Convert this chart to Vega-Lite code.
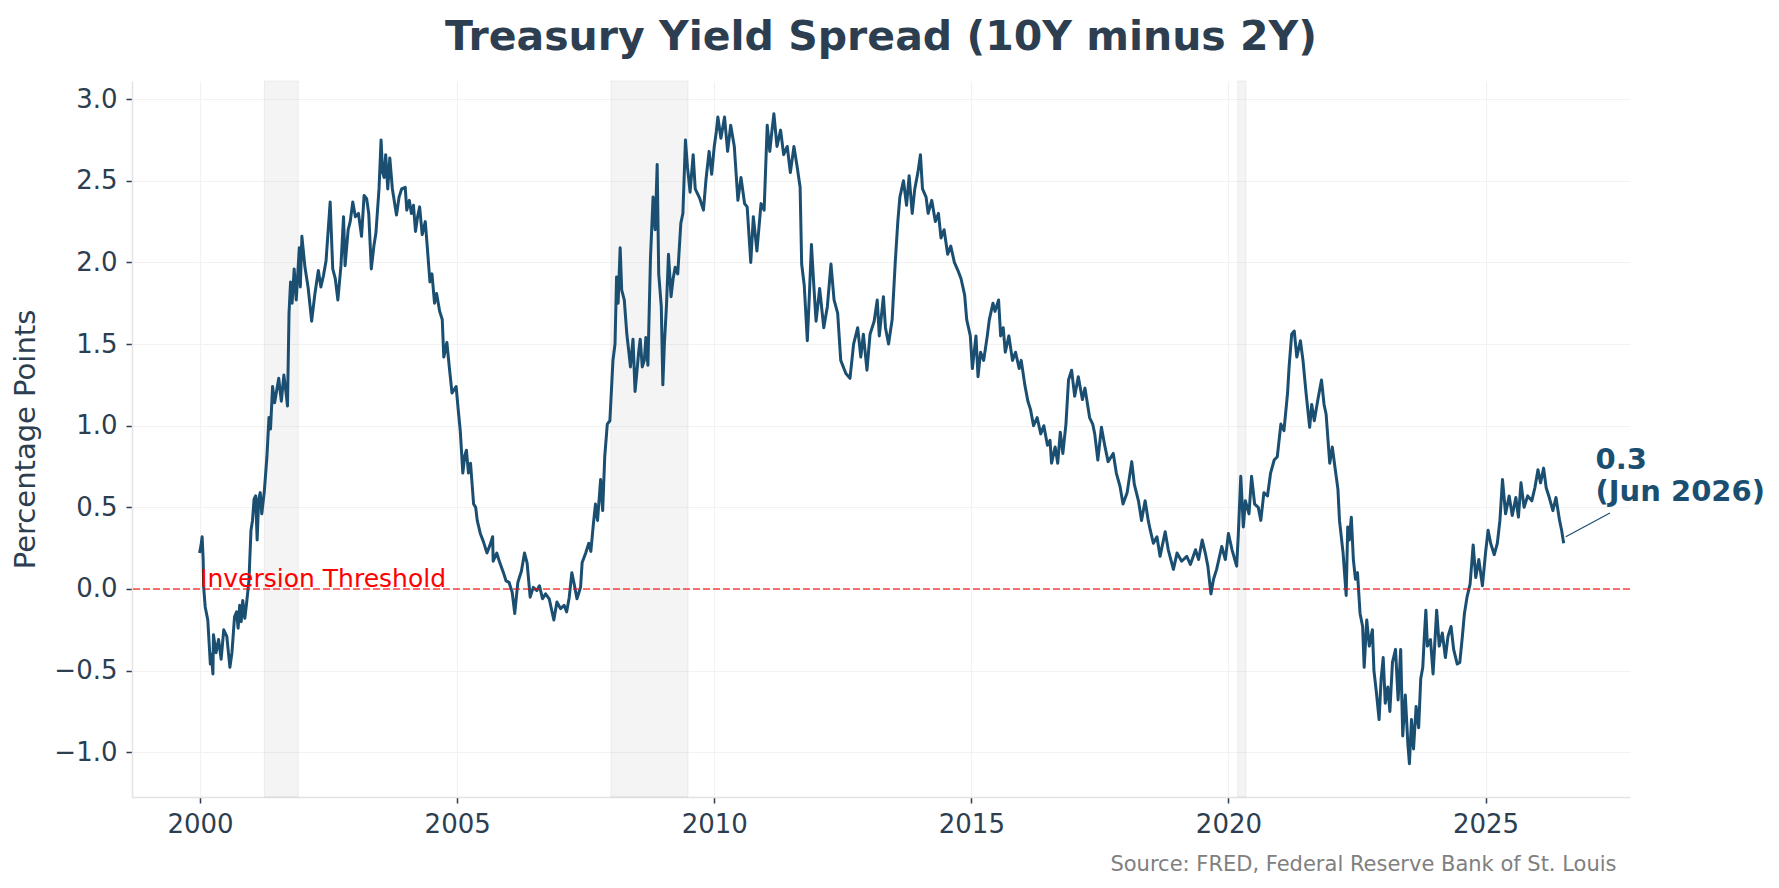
{
  "$schema": "https://vega.github.io/schema/vega-lite/v6.json",
  "autosize": "none",
  "width": 1498,
  "height": 716,
  "padding": {"left": 132, "top": 81, "right": 149, "bottom": 91},
  "background": "white",
  "title": {
    "text": "Treasury Yield Spread (10Y minus 2Y)",
    "font": "DejaVu Sans",
    "fontSize": 41,
    "fontWeight": "bold",
    "color": "#2c3e50",
    "anchor": "middle",
    "baseline": "alphabetic",
    "offset": -10
  },
  "datasets": {
    "spread": [
      {"year": 1999.99, "value": 0.22}, {"year": 2000.02, "value": 0.27}, {"year": 2000.04, "value": 0.32},
      {"year": 2000.06, "value": 0.18}, {"year": 2000.07, "value": 0.01}, {"year": 2000.10, "value": -0.11},
      {"year": 2000.15, "value": -0.19}, {"year": 2000.20, "value": -0.46}, {"year": 2000.22, "value": -0.40},
      {"year": 2000.25, "value": -0.52}, {"year": 2000.26, "value": -0.28}, {"year": 2000.31, "value": -0.39},
      {"year": 2000.36, "value": -0.31}, {"year": 2000.41, "value": -0.43}, {"year": 2000.46, "value": -0.25},
      {"year": 2000.52, "value": -0.29}, {"year": 2000.58, "value": -0.48}, {"year": 2000.62, "value": -0.39},
      {"year": 2000.67, "value": -0.17}, {"year": 2000.71, "value": -0.14}, {"year": 2000.74, "value": -0.24},
      {"year": 2000.77, "value": -0.10}, {"year": 2000.80, "value": -0.20}, {"year": 2000.83, "value": -0.07},
      {"year": 2000.87, "value": -0.18}, {"year": 2000.90, "value": -0.10}, {"year": 2000.95, "value": 0.05},
      {"year": 2000.99, "value": 0.36}, {"year": 2001.02, "value": 0.42}, {"year": 2001.05, "value": 0.55},
      {"year": 2001.08, "value": 0.57}, {"year": 2001.11, "value": 0.30}, {"year": 2001.14, "value": 0.55},
      {"year": 2001.17, "value": 0.59}, {"year": 2001.20, "value": 0.46}, {"year": 2001.25, "value": 0.60},
      {"year": 2001.30, "value": 0.81}, {"year": 2001.34, "value": 1.05}, {"year": 2001.37, "value": 0.98},
      {"year": 2001.41, "value": 1.24}, {"year": 2001.45, "value": 1.14}, {"year": 2001.53, "value": 1.29},
      {"year": 2001.58, "value": 1.15}, {"year": 2001.63, "value": 1.31}, {"year": 2001.68, "value": 1.18},
      {"year": 2001.70, "value": 1.12}, {"year": 2001.73, "value": 1.69}, {"year": 2001.76, "value": 1.88},
      {"year": 2001.79, "value": 1.75}, {"year": 2001.83, "value": 1.96}, {"year": 2001.87, "value": 1.77},
      {"year": 2001.93, "value": 2.09}, {"year": 2001.95, "value": 1.85}, {"year": 2001.98, "value": 2.16},
      {"year": 2002.04, "value": 1.97}, {"year": 2002.10, "value": 1.85}, {"year": 2002.17, "value": 1.64},
      {"year": 2002.23, "value": 1.80}, {"year": 2002.30, "value": 1.95}, {"year": 2002.35, "value": 1.85},
      {"year": 2002.40, "value": 1.92}, {"year": 2002.45, "value": 2.01}, {"year": 2002.53, "value": 2.37},
      {"year": 2002.58, "value": 1.96}, {"year": 2002.63, "value": 1.90}, {"year": 2002.68, "value": 1.77},
      {"year": 2002.74, "value": 1.98}, {"year": 2002.79, "value": 2.28}, {"year": 2002.82, "value": 1.98},
      {"year": 2002.88, "value": 2.20}, {"year": 2002.92, "value": 2.25}, {"year": 2002.97, "value": 2.37},
      {"year": 2003.02, "value": 2.28}, {"year": 2003.08, "value": 2.30}, {"year": 2003.14, "value": 2.16},
      {"year": 2003.19, "value": 2.41}, {"year": 2003.24, "value": 2.39}, {"year": 2003.28, "value": 2.30},
      {"year": 2003.33, "value": 1.96}, {"year": 2003.38, "value": 2.10}, {"year": 2003.42, "value": 2.18},
      {"year": 2003.48, "value": 2.45}, {"year": 2003.52, "value": 2.75}, {"year": 2003.55, "value": 2.55},
      {"year": 2003.58, "value": 2.52}, {"year": 2003.61, "value": 2.66}, {"year": 2003.65, "value": 2.45},
      {"year": 2003.69, "value": 2.64}, {"year": 2003.74, "value": 2.45}, {"year": 2003.82, "value": 2.29},
      {"year": 2003.87, "value": 2.40}, {"year": 2003.92, "value": 2.45}, {"year": 2003.99, "value": 2.46},
      {"year": 2004.02, "value": 2.32}, {"year": 2004.07, "value": 2.38}, {"year": 2004.11, "value": 2.30},
      {"year": 2004.15, "value": 2.35}, {"year": 2004.19, "value": 2.19}, {"year": 2004.23, "value": 2.28},
      {"year": 2004.27, "value": 2.34}, {"year": 2004.32, "value": 2.17}, {"year": 2004.38, "value": 2.25},
      {"year": 2004.42, "value": 2.09}, {"year": 2004.47, "value": 1.88}, {"year": 2004.51, "value": 1.93},
      {"year": 2004.56, "value": 1.75}, {"year": 2004.60, "value": 1.81}, {"year": 2004.66, "value": 1.70},
      {"year": 2004.71, "value": 1.65}, {"year": 2004.74, "value": 1.42}, {"year": 2004.80, "value": 1.51},
      {"year": 2004.85, "value": 1.35}, {"year": 2004.90, "value": 1.20}, {"year": 2004.98, "value": 1.24},
      {"year": 2005.02, "value": 1.10}, {"year": 2005.06, "value": 0.97}, {"year": 2005.11, "value": 0.71},
      {"year": 2005.15, "value": 0.82}, {"year": 2005.18, "value": 0.85}, {"year": 2005.22, "value": 0.71},
      {"year": 2005.26, "value": 0.77}, {"year": 2005.32, "value": 0.52}, {"year": 2005.36, "value": 0.50},
      {"year": 2005.39, "value": 0.42}, {"year": 2005.45, "value": 0.34}, {"year": 2005.51, "value": 0.29},
      {"year": 2005.58, "value": 0.22}, {"year": 2005.64, "value": 0.27}, {"year": 2005.69, "value": 0.32},
      {"year": 2005.70, "value": 0.17}, {"year": 2005.77, "value": 0.22}, {"year": 2005.83, "value": 0.16},
      {"year": 2005.90, "value": 0.10}, {"year": 2005.95, "value": 0.05}, {"year": 2006.01, "value": 0.04},
      {"year": 2006.07, "value": -0.02}, {"year": 2006.12, "value": -0.15}, {"year": 2006.18, "value": 0.04},
      {"year": 2006.25, "value": 0.11}, {"year": 2006.31, "value": 0.22}, {"year": 2006.36, "value": 0.16},
      {"year": 2006.42, "value": -0.05}, {"year": 2006.48, "value": 0.01}, {"year": 2006.55, "value": -0.01},
      {"year": 2006.60, "value": 0.02}, {"year": 2006.66, "value": -0.06}, {"year": 2006.72, "value": -0.03},
      {"year": 2006.79, "value": -0.06}, {"year": 2006.88, "value": -0.19}, {"year": 2006.94, "value": -0.08},
      {"year": 2007.01, "value": -0.12}, {"year": 2007.08, "value": -0.10}, {"year": 2007.13, "value": -0.14},
      {"year": 2007.18, "value": -0.05}, {"year": 2007.23, "value": 0.10}, {"year": 2007.27, "value": 0.04},
      {"year": 2007.33, "value": -0.06}, {"year": 2007.40, "value": 0.01}, {"year": 2007.43, "value": 0.16},
      {"year": 2007.50, "value": 0.22}, {"year": 2007.56, "value": 0.28}, {"year": 2007.60, "value": 0.23},
      {"year": 2007.65, "value": 0.40}, {"year": 2007.69, "value": 0.52}, {"year": 2007.73, "value": 0.42},
      {"year": 2007.79, "value": 0.67}, {"year": 2007.83, "value": 0.48}, {"year": 2007.87, "value": 0.81},
      {"year": 2007.92, "value": 1.01}, {"year": 2007.97, "value": 1.03}, {"year": 2008.03, "value": 1.40},
      {"year": 2008.07, "value": 1.50}, {"year": 2008.10, "value": 1.91}, {"year": 2008.13, "value": 1.75},
      {"year": 2008.17, "value": 2.09}, {"year": 2008.20, "value": 1.83}, {"year": 2008.25, "value": 1.77},
      {"year": 2008.30, "value": 1.56}, {"year": 2008.34, "value": 1.45}, {"year": 2008.37, "value": 1.36},
      {"year": 2008.42, "value": 1.53}, {"year": 2008.46, "value": 1.21}, {"year": 2008.49, "value": 1.31},
      {"year": 2008.53, "value": 1.45}, {"year": 2008.56, "value": 1.53}, {"year": 2008.60, "value": 1.36},
      {"year": 2008.64, "value": 1.40}, {"year": 2008.67, "value": 1.54}, {"year": 2008.71, "value": 1.37},
      {"year": 2008.76, "value": 2.03}, {"year": 2008.81, "value": 2.40}, {"year": 2008.85, "value": 2.20},
      {"year": 2008.89, "value": 2.60}, {"year": 2008.92, "value": 1.93}, {"year": 2008.97, "value": 1.73},
      {"year": 2009.00, "value": 1.25}, {"year": 2009.03, "value": 1.50}, {"year": 2009.07, "value": 1.73},
      {"year": 2009.11, "value": 2.05}, {"year": 2009.16, "value": 1.79}, {"year": 2009.20, "value": 1.90},
      {"year": 2009.24, "value": 1.97}, {"year": 2009.29, "value": 1.93}, {"year": 2009.35, "value": 2.24},
      {"year": 2009.39, "value": 2.30}, {"year": 2009.44, "value": 2.75}, {"year": 2009.48, "value": 2.58},
      {"year": 2009.53, "value": 2.43}, {"year": 2009.59, "value": 2.66}, {"year": 2009.63, "value": 2.45},
      {"year": 2009.66, "value": 2.43}, {"year": 2009.72, "value": 2.39}, {"year": 2009.79, "value": 2.32},
      {"year": 2009.84, "value": 2.51}, {"year": 2009.90, "value": 2.68}, {"year": 2009.95, "value": 2.54},
      {"year": 2010.00, "value": 2.71}, {"year": 2010.04, "value": 2.80}, {"year": 2010.07, "value": 2.89},
      {"year": 2010.13, "value": 2.76}, {"year": 2010.20, "value": 2.89}, {"year": 2010.26, "value": 2.68},
      {"year": 2010.32, "value": 2.84}, {"year": 2010.39, "value": 2.71}, {"year": 2010.46, "value": 2.38},
      {"year": 2010.52, "value": 2.52}, {"year": 2010.59, "value": 2.36}, {"year": 2010.64, "value": 2.34},
      {"year": 2010.71, "value": 2.00}, {"year": 2010.76, "value": 2.28}, {"year": 2010.83, "value": 2.07},
      {"year": 2010.91, "value": 2.36}, {"year": 2010.97, "value": 2.32}, {"year": 2011.03, "value": 2.84},
      {"year": 2011.08, "value": 2.68}, {"year": 2011.12, "value": 2.80}, {"year": 2011.16, "value": 2.91},
      {"year": 2011.22, "value": 2.71}, {"year": 2011.29, "value": 2.81}, {"year": 2011.35, "value": 2.66},
      {"year": 2011.42, "value": 2.71}, {"year": 2011.48, "value": 2.55}, {"year": 2011.55, "value": 2.71},
      {"year": 2011.61, "value": 2.59}, {"year": 2011.67, "value": 2.46}, {"year": 2011.70, "value": 1.99},
      {"year": 2011.75, "value": 1.86}, {"year": 2011.81, "value": 1.52}, {"year": 2011.85, "value": 1.80},
      {"year": 2011.89, "value": 2.11}, {"year": 2011.94, "value": 1.84}, {"year": 2011.98, "value": 1.64},
      {"year": 2012.05, "value": 1.84}, {"year": 2012.13, "value": 1.60}, {"year": 2012.20, "value": 1.73},
      {"year": 2012.27, "value": 1.99}, {"year": 2012.33, "value": 1.77}, {"year": 2012.40, "value": 1.69},
      {"year": 2012.46, "value": 1.40}, {"year": 2012.56, "value": 1.32}, {"year": 2012.64, "value": 1.29},
      {"year": 2012.71, "value": 1.50}, {"year": 2012.79, "value": 1.60}, {"year": 2012.85, "value": 1.42},
      {"year": 2012.90, "value": 1.56}, {"year": 2012.97, "value": 1.34}, {"year": 2013.03, "value": 1.56},
      {"year": 2013.11, "value": 1.64}, {"year": 2013.17, "value": 1.77}, {"year": 2013.21, "value": 1.55},
      {"year": 2013.29, "value": 1.79}, {"year": 2013.33, "value": 1.60}, {"year": 2013.39, "value": 1.50},
      {"year": 2013.46, "value": 1.65}, {"year": 2013.52, "value": 2.00}, {"year": 2013.57, "value": 2.25},
      {"year": 2013.61, "value": 2.40}, {"year": 2013.68, "value": 2.50}, {"year": 2013.74, "value": 2.35},
      {"year": 2013.79, "value": 2.53}, {"year": 2013.85, "value": 2.30}, {"year": 2013.90, "value": 2.45},
      {"year": 2013.96, "value": 2.55}, {"year": 2014.01, "value": 2.66}, {"year": 2014.05, "value": 2.45},
      {"year": 2014.12, "value": 2.40}, {"year": 2014.16, "value": 2.30}, {"year": 2014.23, "value": 2.38},
      {"year": 2014.30, "value": 2.25}, {"year": 2014.36, "value": 2.30}, {"year": 2014.41, "value": 2.15},
      {"year": 2014.47, "value": 2.20}, {"year": 2014.54, "value": 2.05}, {"year": 2014.60, "value": 2.10},
      {"year": 2014.67, "value": 2.00}, {"year": 2014.74, "value": 1.95}, {"year": 2014.80, "value": 1.90},
      {"year": 2014.87, "value": 1.80}, {"year": 2014.91, "value": 1.65}, {"year": 2014.98, "value": 1.55},
      {"year": 2015.02, "value": 1.35}, {"year": 2015.09, "value": 1.55}, {"year": 2015.13, "value": 1.30},
      {"year": 2015.18, "value": 1.45}, {"year": 2015.24, "value": 1.40}, {"year": 2015.31, "value": 1.55},
      {"year": 2015.35, "value": 1.65}, {"year": 2015.42, "value": 1.75}, {"year": 2015.46, "value": 1.70},
      {"year": 2015.53, "value": 1.77}, {"year": 2015.57, "value": 1.55}, {"year": 2015.62, "value": 1.60},
      {"year": 2015.66, "value": 1.45}, {"year": 2015.73, "value": 1.55}, {"year": 2015.80, "value": 1.40},
      {"year": 2015.86, "value": 1.45}, {"year": 2015.93, "value": 1.35}, {"year": 2015.97, "value": 1.40},
      {"year": 2016.04, "value": 1.25}, {"year": 2016.10, "value": 1.15}, {"year": 2016.15, "value": 1.10},
      {"year": 2016.21, "value": 1.00}, {"year": 2016.28, "value": 1.05}, {"year": 2016.35, "value": 0.95},
      {"year": 2016.41, "value": 1.00}, {"year": 2016.48, "value": 0.88}, {"year": 2016.53, "value": 0.91},
      {"year": 2016.56, "value": 0.77}, {"year": 2016.63, "value": 0.87}, {"year": 2016.68, "value": 0.77},
      {"year": 2016.73, "value": 0.96}, {"year": 2016.78, "value": 0.83}, {"year": 2016.84, "value": 1.01},
      {"year": 2016.89, "value": 1.28}, {"year": 2016.95, "value": 1.34}, {"year": 2017.01, "value": 1.18},
      {"year": 2017.08, "value": 1.30}, {"year": 2017.16, "value": 1.16}, {"year": 2017.21, "value": 1.23},
      {"year": 2017.30, "value": 1.05}, {"year": 2017.36, "value": 1.01}, {"year": 2017.40, "value": 0.95},
      {"year": 2017.46, "value": 0.79}, {"year": 2017.53, "value": 0.99}, {"year": 2017.60, "value": 0.87},
      {"year": 2017.66, "value": 0.78}, {"year": 2017.76, "value": 0.83}, {"year": 2017.82, "value": 0.71},
      {"year": 2017.89, "value": 0.63}, {"year": 2017.95, "value": 0.52}, {"year": 2018.03, "value": 0.59},
      {"year": 2018.12, "value": 0.78}, {"year": 2018.17, "value": 0.64}, {"year": 2018.25, "value": 0.54},
      {"year": 2018.31, "value": 0.42}, {"year": 2018.38, "value": 0.54}, {"year": 2018.44, "value": 0.42},
      {"year": 2018.48, "value": 0.36}, {"year": 2018.54, "value": 0.28}, {"year": 2018.61, "value": 0.32},
      {"year": 2018.67, "value": 0.20}, {"year": 2018.77, "value": 0.35}, {"year": 2018.83, "value": 0.24},
      {"year": 2018.93, "value": 0.12}, {"year": 2019.00, "value": 0.22}, {"year": 2019.09, "value": 0.17},
      {"year": 2019.19, "value": 0.20}, {"year": 2019.26, "value": 0.15}, {"year": 2019.36, "value": 0.24},
      {"year": 2019.42, "value": 0.18}, {"year": 2019.49, "value": 0.30}, {"year": 2019.55, "value": 0.22},
      {"year": 2019.60, "value": 0.14}, {"year": 2019.66, "value": -0.03}, {"year": 2019.71, "value": 0.06},
      {"year": 2019.77, "value": 0.12}, {"year": 2019.87, "value": 0.26}, {"year": 2019.94, "value": 0.18},
      {"year": 2020.00, "value": 0.34}, {"year": 2020.07, "value": 0.24}, {"year": 2020.16, "value": 0.14},
      {"year": 2020.19, "value": 0.32}, {"year": 2020.24, "value": 0.69}, {"year": 2020.29, "value": 0.38},
      {"year": 2020.33, "value": 0.54}, {"year": 2020.40, "value": 0.46}, {"year": 2020.45, "value": 0.69},
      {"year": 2020.51, "value": 0.52}, {"year": 2020.58, "value": 0.50}, {"year": 2020.63, "value": 0.42},
      {"year": 2020.69, "value": 0.59}, {"year": 2020.76, "value": 0.57}, {"year": 2020.82, "value": 0.71},
      {"year": 2020.89, "value": 0.79}, {"year": 2020.95, "value": 0.81}, {"year": 2021.02, "value": 1.01},
      {"year": 2021.08, "value": 0.97}, {"year": 2021.15, "value": 1.20}, {"year": 2021.18, "value": 1.36},
      {"year": 2021.23, "value": 1.56}, {"year": 2021.28, "value": 1.58}, {"year": 2021.33, "value": 1.42},
      {"year": 2021.40, "value": 1.52}, {"year": 2021.45, "value": 1.40}, {"year": 2021.51, "value": 1.20},
      {"year": 2021.58, "value": 0.99}, {"year": 2021.62, "value": 1.13}, {"year": 2021.67, "value": 1.03},
      {"year": 2021.74, "value": 1.16}, {"year": 2021.81, "value": 1.28}, {"year": 2021.86, "value": 1.13},
      {"year": 2021.90, "value": 1.07}, {"year": 2021.97, "value": 0.77}, {"year": 2022.02, "value": 0.87},
      {"year": 2022.07, "value": 0.75}, {"year": 2022.13, "value": 0.61}, {"year": 2022.16, "value": 0.42},
      {"year": 2022.23, "value": 0.22}, {"year": 2022.29, "value": -0.04}, {"year": 2022.32, "value": 0.38},
      {"year": 2022.35, "value": 0.30}, {"year": 2022.39, "value": 0.44}, {"year": 2022.43, "value": 0.18},
      {"year": 2022.47, "value": 0.06}, {"year": 2022.51, "value": 0.10}, {"year": 2022.56, "value": -0.15},
      {"year": 2022.61, "value": -0.23}, {"year": 2022.64, "value": -0.48}, {"year": 2022.69, "value": -0.19},
      {"year": 2022.74, "value": -0.35}, {"year": 2022.80, "value": -0.25}, {"year": 2022.83, "value": -0.50},
      {"year": 2022.88, "value": -0.64}, {"year": 2022.93, "value": -0.80}, {"year": 2022.97, "value": -0.55},
      {"year": 2023.01, "value": -0.42}, {"year": 2023.05, "value": -0.70}, {"year": 2023.10, "value": -0.60},
      {"year": 2023.14, "value": -0.75}, {"year": 2023.19, "value": -0.45}, {"year": 2023.25, "value": -0.37},
      {"year": 2023.30, "value": -0.68}, {"year": 2023.35, "value": -0.37}, {"year": 2023.39, "value": -0.90},
      {"year": 2023.44, "value": -0.65}, {"year": 2023.49, "value": -0.95}, {"year": 2023.52, "value": -1.07},
      {"year": 2023.56, "value": -0.80}, {"year": 2023.60, "value": -0.98}, {"year": 2023.65, "value": -0.72},
      {"year": 2023.70, "value": -0.85}, {"year": 2023.74, "value": -0.55}, {"year": 2023.78, "value": -0.48},
      {"year": 2023.81, "value": -0.29}, {"year": 2023.84, "value": -0.13}, {"year": 2023.87, "value": -0.35},
      {"year": 2023.93, "value": -0.31}, {"year": 2023.98, "value": -0.52}, {"year": 2024.05, "value": -0.13},
      {"year": 2024.10, "value": -0.35}, {"year": 2024.16, "value": -0.27}, {"year": 2024.22, "value": -0.42},
      {"year": 2024.27, "value": -0.29}, {"year": 2024.33, "value": -0.23}, {"year": 2024.38, "value": -0.37},
      {"year": 2024.45, "value": -0.46}, {"year": 2024.50, "value": -0.45}, {"year": 2024.55, "value": -0.29},
      {"year": 2024.59, "value": -0.15}, {"year": 2024.64, "value": -0.05}, {"year": 2024.70, "value": 0.03},
      {"year": 2024.76, "value": 0.27}, {"year": 2024.81, "value": 0.07}, {"year": 2024.87, "value": 0.18},
      {"year": 2024.94, "value": 0.02}, {"year": 2025.00, "value": 0.22}, {"year": 2025.05, "value": 0.36},
      {"year": 2025.10, "value": 0.28}, {"year": 2025.17, "value": 0.21}, {"year": 2025.23, "value": 0.28},
      {"year": 2025.28, "value": 0.42}, {"year": 2025.33, "value": 0.67}, {"year": 2025.39, "value": 0.46},
      {"year": 2025.46, "value": 0.57}, {"year": 2025.52, "value": 0.45}, {"year": 2025.59, "value": 0.56},
      {"year": 2025.64, "value": 0.44}, {"year": 2025.69, "value": 0.65}, {"year": 2025.75, "value": 0.50},
      {"year": 2025.82, "value": 0.57}, {"year": 2025.90, "value": 0.54}, {"year": 2025.96, "value": 0.62},
      {"year": 2026.02, "value": 0.73}, {"year": 2026.07, "value": 0.65}, {"year": 2026.13, "value": 0.74},
      {"year": 2026.18, "value": 0.62}, {"year": 2026.24, "value": 0.56}, {"year": 2026.31, "value": 0.48},
      {"year": 2026.37, "value": 0.56}, {"year": 2026.44, "value": 0.42}, {"year": 2026.48, "value": 0.36},
      {"year": 2026.52, "value": 0.28}
    ],
    "recessions": [
      {"start": 2001.25, "end": 2001.91},
      {"start": 2007.99, "end": 2009.49},
      {"start": 2020.18, "end": 2020.34}
    ],
    "threshold": [{"value": 0, "label": "Inversion Threshold", "year": 2000.0, "labelValue": 0.015}],
    "pointer": [{"year": 2026.56, "value": 0.32, "year2": 2027.42, "value2": 0.465}],
    "callout": [
      {"year": 2027.14, "value": 0.736, "label": "0.3"},
      {"year": 2027.14, "value": 0.54, "label": "(Jun 2026)"}
    ]
  },
  "layer": [
    {
      "data": {"name": "recessions"},
      "mark": {"type": "rect", "fill": "#808080", "fillOpacity": 0.09, "stroke": "#808080", "strokeOpacity": 0.1, "strokeWidth": 1},
      "encoding": {
        "x": {
          "field": "start", "type": "quantitative",
          "scale": {"domain": [1998.676, 2027.81], "nice": false, "zero": false},
          "axis": {
            "values": [2000, 2005, 2010, 2015, 2020, 2025],
            "format": "d",
            "title": "Source: FRED, Federal Reserve Bank of St. Louis",
            "titleFont": "DejaVu Sans",
            "titleFontSize": 21,
            "titleFontWeight": "normal",
            "titleColor": "#808080",
            "titleAnchor": "end",
            "titleAlign": "right",
            "titleBaseline": "alphabetic",
            "titleX": 1484,
            "titleY": 73
          }
        },
        "x2": {"field": "end"}
      }
    },
    {
      "data": {"name": "spread"},
      "mark": {"type": "line", "color": "#1b4f72", "strokeWidth": 3, "strokeJoin": "round"},
      "encoding": {
        "x": {"field": "year", "type": "quantitative"},
        "y": {
          "field": "value", "type": "quantitative",
          "scale": {"domain": [-1.274, 3.111], "nice": false, "zero": false},
          "axis": {
            "values": [-1, -0.5, 0, 0.5, 1, 1.5, 2, 2.5, 3],
            "format": ".1f",
            "title": "Percentage Points",
            "titleFont": "DejaVu Sans",
            "titleFontSize": 29,
            "titleFontWeight": "normal",
            "titleColor": "#2c3e50",
            "titlePadding": 13
          }
        }
      }
    },
    {
      "data": {"name": "threshold"},
      "mark": {"type": "rule", "color": "#ff0000", "opacity": 0.75, "strokeWidth": 1.6, "strokeDash": [7, 3]},
      "encoding": {"y": {"field": "value", "type": "quantitative"}}
    },
    {
      "data": {"name": "threshold"},
      "mark": {"type": "text", "align": "left", "baseline": "alphabetic", "font": "DejaVu Sans", "fontSize": 25, "color": "#ff0000"},
      "encoding": {
        "x": {"field": "year", "type": "quantitative"},
        "y": {"field": "labelValue", "type": "quantitative"},
        "text": {"field": "label"}
      }
    },
    {
      "data": {"name": "pointer"},
      "mark": {"type": "rule", "color": "#1b4f72", "strokeWidth": 1.2},
      "encoding": {
        "x": {"field": "year", "type": "quantitative"},
        "y": {"field": "value", "type": "quantitative"},
        "x2": {"field": "year2"},
        "y2": {"field": "value2"}
      }
    },
    {
      "data": {"name": "callout"},
      "mark": {"type": "text", "align": "left", "baseline": "alphabetic", "font": "DejaVu Sans", "fontSize": 29, "fontWeight": "bold", "color": "#1b4f72"},
      "encoding": {
        "x": {"field": "year", "type": "quantitative"},
        "y": {"field": "value", "type": "quantitative"},
        "text": {"field": "label"}
      }
    }
  ],
  "config": {
    "view": {"stroke": null},
    "axis": {
      "labelFont": "DejaVu Sans",
      "labelFontSize": 26,
      "labelColor": "#2c3e50",
      "domainColor": "#e3e3e3",
      "domainWidth": 1.5,
      "tickColor": "#2c3e50",
      "tickSize": 6,
      "tickWidth": 1.5,
      "labelPadding": 8,
      "grid": true,
      "gridColor": "#f2f2f2",
      "gridWidth": 1.2
    },
    "axisY": {"labelPadding": 9}
  }
}
